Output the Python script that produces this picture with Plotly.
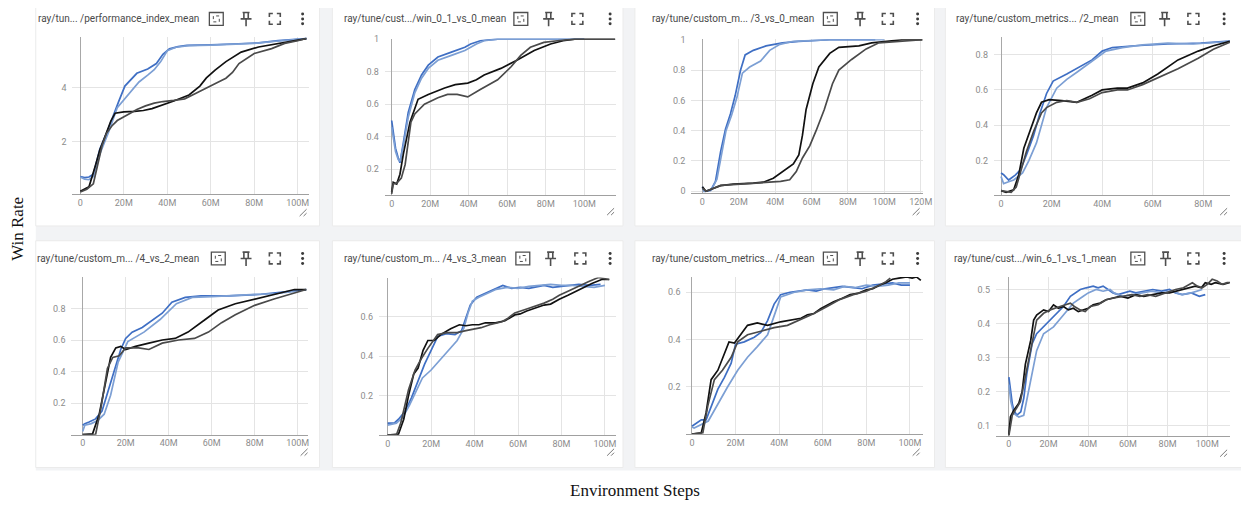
import plotly.graph_objects as go

W, H = 1249, 506
OFF = 8            # the page body margin shifts the figure by this many pixels
FW, FH = W - OFF, H - OFF

# ---------------- data (x in millions of environment steps) ----------------
TITLES = [
    "ray/tun... /performance_index_mean",
    "ray/tune/cust.../win_0_1_vs_0_mean",
    "ray/tune/custom_m... /3_vs_0_mean",
    "ray/tune/custom_metrics... /2_mean",
    "ray/tune/custom_m... /4_vs_2_mean",
    "ray/tune/custom_m... /4_vs_3_mean",
    "ray/tune/custom_metrics... /4_mean",
    "ray/tune/cust.../win_6_1_vs_1_mean",
]
X_TICKS = [0, 20, 40, 60, 80, 100, 120]
X_TICK_TEXT = ["0", "20M", "40M", "60M", "80M", "100M", "120M"]

# panel 1
P1_B1_X = [0, 2, 4, 6, 9, 13, 17.5, 20.5, 26, 31, 35, 38, 41, 45, 49, 55, 60, 70, 82, 91, 102, 104]
P1_B1_Y = [0.72, 0.68, 0.70, 0.80, 1.73, 2.5, 3.45, 4.05, 4.52, 4.68, 4.88, 5.22, 5.42, 5.50, 5.55, 5.55, 5.57, 5.60, 5.64, 5.72, 5.78, 5.80]
P1_B2_X = [0, 2, 4, 6, 9, 13, 17, 22, 27, 31, 34, 37, 40, 44, 50, 60, 70, 80, 90, 100, 104]
P1_B2_Y = [0.70, 0.62, 0.60, 0.72, 1.55, 2.35, 3.25, 3.73, 4.2, 4.45, 4.65, 4.95, 5.35, 5.48, 5.54, 5.56, 5.58, 5.62, 5.70, 5.76, 5.80]
P1_K1_X = [0, 4, 7, 9, 11.5, 14, 16, 20, 25, 29, 33, 37, 43, 50, 55, 58, 62, 67, 74, 82, 92, 100, 104]
P1_K1_Y = [0.18, 0.34, 1.13, 1.7, 2.22, 2.75, 3.05, 3.10, 3.12, 3.15, 3.22, 3.33, 3.50, 3.72, 4.05, 4.35, 4.64, 4.95, 5.30, 5.49, 5.64, 5.74, 5.80]
P1_K2_X = [0, 3, 6, 8, 10, 12, 14.5, 17, 20, 23, 26, 30, 34, 38, 43, 48, 53, 57, 60.5, 64, 67, 70, 73, 77, 80, 88, 94, 100, 104]
P1_K2_Y = [0.15, 0.25, 0.45, 1.1, 1.85, 2.3, 2.58, 2.78, 2.90, 3.05, 3.19, 3.32, 3.42, 3.48, 3.52, 3.58, 3.78, 3.95, 4.10, 4.22, 4.34, 4.55, 4.88, 5.08, 5.25, 5.43, 5.62, 5.72, 5.80]

# panel 2
P2_B1_X = [0, 1, 2, 3.4, 4.3, 6, 8.6, 12, 15.5, 19, 24, 31, 38, 41, 46, 55, 70, 85, 100]
P2_B1_Y = [0.50, 0.42, 0.33, 0.27, 0.24, 0.36, 0.55, 0.69, 0.78, 0.84, 0.89, 0.92, 0.95, 0.97, 0.99, 1.0, 1.0, 1.0, 1.0]
P2_B2_X = [0, 1, 2, 3.4, 4.3, 6, 8.6, 12, 15.5, 19, 24, 31, 38, 41, 44, 48, 55, 70, 85, 100]
P2_B2_Y = [0.46, 0.38, 0.31, 0.26, 0.25, 0.34, 0.52, 0.67, 0.76, 0.82, 0.87, 0.90, 0.93, 0.95, 0.97, 0.99, 1.0, 1.0, 1.0, 1.0]
P2_K1_X = [0, 0.8, 2.6, 4.3, 6, 9.5, 13.7, 19, 27.5, 33, 39.5, 44, 48, 56.7, 65, 74, 82.5, 89, 95, 105, 116]
P2_K1_Y = [0.06, 0.12, 0.11, 0.17, 0.29, 0.49, 0.63, 0.66, 0.70, 0.72, 0.73, 0.75, 0.78, 0.82, 0.87, 0.93, 0.97, 0.99, 1.0, 1.0, 1.0]
P2_K2_X = [0, 0.8, 2.6, 5, 7, 10, 12, 17, 24, 29, 34, 39.5, 46, 55, 62, 67, 72, 79, 86, 95, 105, 116]
P2_K2_Y = [0.05, 0.11, 0.115, 0.146, 0.23, 0.49, 0.54, 0.60, 0.64, 0.66, 0.66, 0.645, 0.69, 0.75, 0.83, 0.90, 0.95, 0.98, 0.99, 1.0, 1.0, 1.0]

# panel 3
P3_B1_X = [0, 1, 4.5, 7.2, 10, 12.7, 15.4, 18, 21, 23.5, 28, 35, 44, 53, 70, 95]
P3_B1_Y = [0.03, 0.0, 0.005, 0.065, 0.26, 0.41, 0.51, 0.63, 0.80, 0.90, 0.93, 0.96, 0.98, 0.99, 1.0, 1.0]
P3_B2_X = [0, 1, 5, 8, 10.5, 13, 16, 19, 22, 26, 32, 37, 42.6, 50, 70, 100]
P3_B2_Y = [0.02, 0.0, 0.01, 0.08, 0.24, 0.40, 0.50, 0.62, 0.78, 0.82, 0.86, 0.93, 0.97, 0.99, 1.0, 1.0]
P3_K1_X = [0, 2, 10, 17, 28, 33.5, 39, 44, 50, 53, 55, 57, 60.7, 64, 70, 75, 86, 93, 100, 110, 121]
P3_K1_Y = [0.03, 0.0, 0.037, 0.047, 0.054, 0.06, 0.086, 0.13, 0.18, 0.24, 0.37, 0.54, 0.71, 0.82, 0.91, 0.95, 0.96, 0.98, 0.99, 1.0, 1.0]
P3_K2_X = [0, 2, 10, 28, 43, 48, 51.6, 55, 59, 62.5, 67, 71.5, 75, 82, 90, 97, 108, 121]
P3_K2_Y = [0.02, 0.0, 0.039, 0.054, 0.065, 0.076, 0.13, 0.22, 0.30, 0.40, 0.54, 0.71, 0.80, 0.87, 0.94, 0.98, 0.99, 1.0]

# panel 4
P4_B1_X = [0, 1, 3, 5.6, 7.6, 10, 12.8, 15.4, 18, 20.6, 26, 31, 36, 40, 44, 53, 66, 79, 90.5]
P4_B1_Y = [0.13, 0.12, 0.09, 0.118, 0.146, 0.23, 0.34, 0.47, 0.58, 0.65, 0.69, 0.73, 0.77, 0.82, 0.84, 0.85, 0.86, 0.865, 0.876]
P4_B2_X = [0, 1, 3, 5, 8.5, 11, 14, 18, 22, 26, 30, 36, 41.5, 48, 56, 66, 76, 86, 90.5]
P4_B2_Y = [0.11, 0.07, 0.08, 0.09, 0.13, 0.2, 0.30, 0.50, 0.61, 0.66, 0.70, 0.76, 0.82, 0.84, 0.855, 0.865, 0.86, 0.87, 0.875]
P4_K1_X = [0, 2, 5, 7, 9, 11.5, 14, 16, 19, 24, 30, 36, 40, 46, 50, 56, 62, 70, 78, 84, 90.5]
P4_K1_Y = [0.03, 0.02, 0.035, 0.12, 0.27, 0.37, 0.47, 0.53, 0.545, 0.54, 0.53, 0.57, 0.60, 0.61, 0.61, 0.64, 0.69, 0.77, 0.82, 0.85, 0.875]
P4_K2_X = [0, 4, 6, 8, 10, 13, 16, 18, 22, 26, 30, 35, 40, 46, 50, 56, 62, 70, 78, 84, 90.5]
P4_K2_Y = [0.03, 0.02, 0.05, 0.15, 0.25, 0.37, 0.47, 0.50, 0.53, 0.54, 0.53, 0.55, 0.585, 0.60, 0.60, 0.63, 0.67, 0.72, 0.78, 0.83, 0.87]

# panel 5
P5_B1_X = [0, 1, 3, 6, 9, 12.3, 15.4, 17.7, 20, 23, 27.7, 32, 37, 41.5, 47.7, 55, 68, 83, 98, 104]
P5_B1_Y = [0.06, 0.07, 0.08, 0.10, 0.15, 0.30, 0.44, 0.54, 0.61, 0.65, 0.68, 0.72, 0.77, 0.84, 0.87, 0.88, 0.88, 0.89, 0.91, 0.92]
P5_B2_X = [0, 1, 4, 7, 10, 13, 16.5, 21, 28.5, 36, 43.6, 51, 60, 75, 90, 100]
P5_B2_Y = [0.02, 0.06, 0.07, 0.09, 0.13, 0.25, 0.46, 0.59, 0.65, 0.73, 0.83, 0.87, 0.875, 0.885, 0.895, 0.91]
P5_K1_X = [0, 4.6, 7.7, 10.8, 13, 15.4, 17.7, 20, 24.6, 30.8, 37, 43, 49, 57, 63, 71, 80, 89, 98.5, 104]
P5_K1_Y = [0.0, 0.005, 0.13, 0.34, 0.49, 0.55, 0.56, 0.54, 0.56, 0.58, 0.60, 0.61, 0.65, 0.73, 0.79, 0.83, 0.86, 0.89, 0.92, 0.92]
P5_K2_X = [0, 6, 8.5, 11.5, 14, 17, 20, 26, 30.8, 37, 44.6, 52, 58.5, 64.6, 71, 80, 89, 98.5, 104]
P5_K2_Y = [0.0, 0.0, 0.17, 0.42, 0.49, 0.50, 0.55, 0.55, 0.54, 0.58, 0.60, 0.61, 0.65, 0.71, 0.76, 0.82, 0.86, 0.90, 0.92]

# panel 6
P6_B1_X = [0, 3, 5, 8, 11, 14, 17, 20, 23, 27, 31, 34, 36, 38, 41, 45, 50, 53, 57, 61, 65, 69, 72, 76, 80, 84, 88, 93, 98]
P6_B1_Y = [0.06, 0.06, 0.08, 0.12, 0.19, 0.28, 0.36, 0.43, 0.50, 0.515, 0.51, 0.53, 0.60, 0.66, 0.70, 0.72, 0.745, 0.76, 0.745, 0.75, 0.745, 0.755, 0.76, 0.75, 0.755, 0.76, 0.765, 0.76, 0.765]
P6_B2_X = [0, 4, 7, 10, 13, 16, 20, 24, 28, 32, 35, 37, 39, 42, 46, 50, 55, 60, 65, 70, 75, 80, 85, 90, 95, 100]
P6_B2_Y = [0.05, 0.06, 0.09, 0.15, 0.22, 0.29, 0.33, 0.38, 0.43, 0.48, 0.54, 0.62, 0.68, 0.70, 0.72, 0.74, 0.75, 0.745, 0.755, 0.76, 0.765, 0.76, 0.76, 0.755, 0.75, 0.76]
P6_K1_X = [0, 5, 7.4, 9.6, 12, 14, 16.3, 18.5, 21.5, 24.4, 29, 33, 36, 39, 42, 45, 49.6, 54, 58.5, 61, 64, 68, 72, 75, 79, 83, 86.7, 90, 94, 98.5, 102]
P6_K1_Y = [0.0, 0.005, 0.08, 0.20, 0.31, 0.34, 0.43, 0.48, 0.48, 0.51, 0.54, 0.56, 0.555, 0.56, 0.56, 0.57, 0.57, 0.58, 0.61, 0.615, 0.63, 0.645, 0.66, 0.665, 0.69, 0.71, 0.73, 0.75, 0.77, 0.79, 0.79]
P6_K2_X = [0, 4, 6, 9.6, 12.6, 15.6, 18.5, 23, 27.4, 32, 36, 40, 43, 47, 52.6, 55, 58.5, 64, 68, 72, 76, 79, 83, 86.7, 92.6, 97, 102]
P6_K2_Y = [0.0, 0.0, 0.06, 0.23, 0.33, 0.39, 0.44, 0.51, 0.52, 0.52, 0.53, 0.54, 0.545, 0.56, 0.575, 0.59, 0.62, 0.64, 0.655, 0.67, 0.69, 0.71, 0.73, 0.75, 0.78, 0.80, 0.79]

# panel 7
P7_B1_X = [0, 2, 4.3, 6.5, 8.8, 11.9, 14.9, 18, 20, 24, 28.6, 31.6, 34.7, 37.7, 40.7, 45, 49, 53, 57, 61, 65, 69, 74, 78, 83, 87, 92, 96, 100]
P7_B1_Y = [0.033, 0.047, 0.06, 0.06, 0.117, 0.19, 0.24, 0.30, 0.38, 0.39, 0.41, 0.43, 0.48, 0.55, 0.59, 0.60, 0.605, 0.61, 0.605, 0.615, 0.62, 0.625, 0.62, 0.615, 0.63, 0.635, 0.64, 0.63, 0.63]
P7_B2_X = [0, 1, 7.5, 12, 16.4, 21, 25.5, 30, 34.7, 37.7, 40.7, 47, 53, 59, 65, 70, 75, 80, 85, 90, 95, 100]
P7_B2_Y = [0.03, 0.025, 0.055, 0.13, 0.20, 0.27, 0.325, 0.37, 0.42, 0.50, 0.58, 0.60, 0.61, 0.615, 0.61, 0.625, 0.62, 0.63, 0.625, 0.63, 0.64, 0.64]
P7_K1_X = [0, 4.3, 6.5, 8.8, 11.9, 14.9, 17, 19.5, 22.5, 25.5, 30, 34.7, 40.7, 46.8, 50, 53, 56, 59, 62, 65, 69, 72.6, 76, 80, 83, 86, 89, 92, 95, 98.5, 101, 103, 105]
P7_K1_Y = [0.0, 0.005, 0.09, 0.23, 0.27, 0.34, 0.39, 0.385, 0.42, 0.46, 0.47, 0.46, 0.475, 0.485, 0.49, 0.505, 0.51, 0.53, 0.545, 0.56, 0.575, 0.59, 0.595, 0.61, 0.615, 0.63, 0.64, 0.655, 0.66, 0.665, 0.66, 0.665, 0.65]
P7_K2_X = [0, 5, 7.3, 10.3, 14, 18, 21, 25.5, 31.6, 37.7, 43.8, 50, 56, 62, 68, 74, 80, 86, 89, 91]
P7_K2_Y = [0.0, 0.005, 0.12, 0.23, 0.27, 0.325, 0.39, 0.42, 0.435, 0.45, 0.46, 0.485, 0.51, 0.54, 0.57, 0.59, 0.605, 0.63, 0.645, 0.66]

# panel 8
P8_B1_X = [0, 0.8, 1.7, 2.5, 4, 6, 7.5, 9, 11.7, 14, 17.5, 21, 24, 27.5, 31, 33.5, 36, 39, 42.5, 45, 47.5, 50, 52.5, 55, 57.5, 61, 64, 68, 72.5, 77, 81, 84, 87.5, 92, 96, 99]
P8_B1_Y = [0.242, 0.20, 0.165, 0.145, 0.13, 0.14, 0.18, 0.25, 0.34, 0.37, 0.39, 0.41, 0.43, 0.45, 0.48, 0.49, 0.50, 0.505, 0.51, 0.505, 0.51, 0.50, 0.49, 0.485, 0.49, 0.495, 0.49, 0.495, 0.50, 0.495, 0.50, 0.49, 0.485, 0.49, 0.48, 0.485]
P8_B2_X = [0, 1, 2.5, 5, 7.5, 11, 14, 17.5, 22.5, 27.5, 32.5, 37.5, 40, 44, 47.5, 51, 53, 57.5, 62, 67, 72, 77, 82, 87, 92, 97.5]
P8_B2_Y = [0.22, 0.17, 0.135, 0.125, 0.13, 0.23, 0.32, 0.37, 0.39, 0.425, 0.46, 0.48, 0.49, 0.50, 0.495, 0.50, 0.49, 0.48, 0.485, 0.49, 0.495, 0.49, 0.495, 0.485, 0.49, 0.50]
P8_K1_X = [0, 0.8, 2.5, 5, 6.7, 8.3, 11, 12.5, 14, 17.5, 20, 22.5, 25, 27.5, 30, 32.5, 35, 37.5, 40, 42.5, 46, 49, 52, 56, 60, 64, 68, 72.5, 77, 81, 84, 87.5, 91, 94, 97, 99, 102, 104, 108, 111]
P8_K1_Y = [0.073, 0.126, 0.145, 0.165, 0.20, 0.28, 0.35, 0.41, 0.425, 0.44, 0.435, 0.455, 0.445, 0.45, 0.44, 0.445, 0.435, 0.44, 0.445, 0.455, 0.46, 0.47, 0.475, 0.48, 0.475, 0.485, 0.48, 0.485, 0.49, 0.49, 0.495, 0.50, 0.505, 0.51, 0.505, 0.52, 0.515, 0.52, 0.515, 0.52]
P8_K2_X = [0, 1.7, 5.8, 8.3, 10.8, 14, 17.5, 20.8, 25.8, 31, 33, 36, 38.5, 41, 45, 49, 53, 57, 62, 66, 70, 74, 79, 84, 88, 92.5, 95, 97.5, 100, 102.5, 105, 107.5, 110, 111.5]
P8_K2_Y = [0.07, 0.13, 0.17, 0.24, 0.31, 0.41, 0.43, 0.44, 0.45, 0.46, 0.45, 0.44, 0.435, 0.45, 0.455, 0.47, 0.475, 0.48, 0.485, 0.48, 0.485, 0.48, 0.49, 0.50, 0.505, 0.52, 0.51, 0.505, 0.515, 0.53, 0.525, 0.515, 0.52, 0.52]

# ---------------- layout geometry (page pixels) ----------------
def PX(x):
    return (x - OFF) / FW

def PY(y):
    return 1 - (y - OFF) / FH

# plot area: left, right, top, bottom (px) ; x range ; y range ; y ticks
PANELS = [
    dict(box=(73, 311, 33, 193), xr=(-3.6, 105), yr=(0.06, 5.87), yt=[2, 4], ytt=["2", "4"]),
    dict(box=(388, 621, 35, 194), xr=(-3.5, 116.5), yr=(0.04, 1.003), yt=[0.2, 0.4, 0.6, 0.8, 1.0], ytt=["0.2", "0.4", "0.6", "0.8", "1"]),
    dict(box=(697, 930, 35.7, 191.7), xr=(-6, 121), yr=(-0.012, 1.003), yt=[0, 0.2, 0.4, 0.6, 0.8, 1.0], ytt=["0", "0.2", "0.4", "0.6", "0.8", "1"]),
    dict(box=(1002, 1240, 33.3, 194), xr=(-2.8, 90.6), yr=(0.003, 0.9), yt=[0.2, 0.4, 0.6, 0.8], ytt=["0.2", "0.4", "0.6", "0.8"]),
    dict(box=(72, 310, 276.7, 436.7), xr=(-5.2, 104.6), yr=(0.0, 1.0), yt=[0.2, 0.4, 0.6, 0.8, 1.0], ytt=["0.2", "0.4", "0.6", "0.8", ""]),
    dict(box=(382, 620.7, 277.3, 437), xr=(-4, 105), yr=(0.0, 0.8), yt=[0.2, 0.4, 0.6, 0.8], ytt=["0.2", "0.4", "0.6", ""]),
    dict(box=(692, 930, 276.7, 436), xr=(-2.5, 105.8), yr=(0.0, 0.665), yt=[0.2, 0.4, 0.6], ytt=["0.2", "0.4", "0.6"]),
    dict(box=(1004, 1240, 276.7, 437.7), xr=(-6.5, 111.5), yr=(0.07, 0.537), yt=[0.1, 0.2, 0.3, 0.4, 0.5], ytt=["0.1", "0.2", "0.3", "0.4", "0.5"]),
]

SERIES = [
    [(P1_B1_X, P1_B1_Y), (P1_B2_X, P1_B2_Y), (P1_K1_X, P1_K1_Y), (P1_K2_X, P1_K2_Y)],
    [(P2_B1_X, P2_B1_Y), (P2_B2_X, P2_B2_Y), (P2_K1_X, P2_K1_Y), (P2_K2_X, P2_K2_Y)],
    [(P3_B1_X, P3_B1_Y), (P3_B2_X, P3_B2_Y), (P3_K1_X, P3_K1_Y), (P3_K2_X, P3_K2_Y)],
    [(P4_B1_X, P4_B1_Y), (P4_B2_X, P4_B2_Y), (P4_K1_X, P4_K1_Y), (P4_K2_X, P4_K2_Y)],
    [(P5_B1_X, P5_B1_Y), (P5_B2_X, P5_B2_Y), (P5_K1_X, P5_K1_Y), (P5_K2_X, P5_K2_Y)],
    [(P6_B1_X, P6_B1_Y), (P6_B2_X, P6_B2_Y), (P6_K1_X, P6_K1_Y), (P6_K2_X, P6_K2_Y)],
    [(P7_B1_X, P7_B1_Y), (P7_B2_X, P7_B2_Y), (P7_K1_X, P7_K1_Y), (P7_K2_X, P7_K2_Y)],
    [(P8_B1_X, P8_B1_Y), (P8_B2_X, P8_B2_Y), (P8_K1_X, P8_K1_Y), (P8_K2_X, P8_K2_Y)],
]
COLORS = ["#3f6fc4", "#7c9fd4", "#111111", "#4a4a4a"]

CARDS = [(36, 322, -6, 225), (335, 628, -6, 225), (640, 942, -6, 225), (953, 1260, -6, 225),
         (36, 322, 240, 470), (335, 628, 240, 470), (640, 942, 240, 470), (953, 1260, 240, 470)]
TITLE_POS = [(36, 15), (345, 15), (655, 15), (962, 15), (35, 258), (345, 258), (655, 258), (960, 258)]
ICON_X = [(218, 248, 277, 305), (525, 553, 582, 615), (837, 867, 895, 925), (1147, 1174, 1203, 1234),
          (220, 248, 277, 305), (527, 555, 585, 615), (837, 867, 895, 925), (1147, 1175, 1203, 1234)]
RESIZE_POS = [(307, 212), (617, 211), (925, 211), (1235, 211), (308, 455), (617, 455), (925, 455), (1235, 456)]

fig = go.Figure()

# background and cards
fig.add_shape(type="rect", xref="paper", yref="paper", x0=PX(36), x1=PX(1262), y0=PY(473), y1=PY(-5),
              fillcolor="#f2f3f5", line=dict(width=0), layer="below")
for (l, r, t, b) in CARDS:
    fig.add_shape(type="rect", xref="paper", yref="paper", x0=PX(l), x1=PX(r), y0=PY(b), y1=PY(t),
                  fillcolor="white", line=dict(color="#ebebeb", width=1), layer="below")

for i, p in enumerate(PANELS):
    n = i + 1
    l, r, t, b = p["box"]
    xa = "x" if n == 1 else f"x{n}"
    ya = "y" if n == 1 else f"y{n}"
    for k, (xs, ys) in enumerate(SERIES[i]):
        fig.add_trace(go.Scatter(x=xs, y=ys, mode="lines", xaxis=xa, yaxis=ya,
                                 line=dict(color=COLORS[k], width=1.7, shape="linear"),
                                 showlegend=False, hoverinfo="skip"))
    nticks = [v for v in X_TICKS if v <= p["xr"][1] + 3]
    fig.layout[f"xaxis{'' if n == 1 else n}"] = dict(
        domain=[PX(l), PX(r)], range=list(p["xr"]), anchor=ya,
        tickvals=nticks, ticktext=X_TICK_TEXT[:len(nticks)],
        showgrid=True, gridcolor="#e4e4e4", gridwidth=1,
        zeroline=True, zerolinecolor="#a8a8a8", zerolinewidth=1,
        showline=True, linecolor="#a0a0a0", linewidth=1,
        ticks="", tickfont=dict(family="Roboto", size=9, color="#8c8c8c"),
        fixedrange=True)
    fig.layout[f"yaxis{'' if n == 1 else n}"] = dict(
        domain=[PY(b), PY(t)], range=list(p["yr"]), anchor=xa,
        tickvals=p["yt"], ticktext=p["ytt"],
        showgrid=True, gridcolor="#e4e4e4", gridwidth=1,
        zeroline=False, showline=False,
        ticks="", ticklabelstandoff=5, tickfont=dict(family="Roboto", size=9, color="#8c8c8c"),
        fixedrange=True)

annotations = []
shapes = []

def path(points_list):
    s = ""
    for pts in points_list:
        for j, (x, y) in enumerate(pts):
            s += ("M" if j == 0 else "L") + f"{PX(x):.5f},{PY(y):.5f} "
    return s.strip()

for i in range(8):
    tx, ty = TITLE_POS[i]
    annotations.append(dict(text=TITLES[i], x=PX(tx), y=PY(ty), xref="paper", yref="paper",
                            xanchor="left", yanchor="middle", showarrow=False,
                            font=dict(family="Roboto", size=10, color="#4a4a4a")))
    x1, x2, x3, x4 = ICON_X[i]
    cy = ty
    col = "#4f4f4f"
    # fit-to-domain icon
    shapes.append(dict(type="rect", xref="paper", yref="paper", x0=PX(x1 - 7), x1=PX(x1 + 7),
                       y0=PY(cy + 6.5), y1=PY(cy - 6.5), line=dict(color=col, width=1.3)))
    shapes.append(dict(type="rect", xref="paper", yref="paper", x0=PX(x1 - 3), x1=PX(x1 + 3),
                       y0=PY(cy + 3), y1=PY(cy - 3), line=dict(color=col, width=1, dash="dot")))
    # pin icon
    shapes.append(dict(type="path", xref="paper", yref="paper", line=dict(color=col, width=1.6),
                       path=path([[(x2 - 3.5, cy - 6.5), (x2 + 3.5, cy - 6.5)],
                                  [(x2 - 2.2, cy - 6.5), (x2 - 2.2, cy)],
                                  [(x2 + 2.2, cy - 6.5), (x2 + 2.2, cy)],
                                  [(x2 - 5.5, cy), (x2 + 5.5, cy)],
                                  [(x2, cy), (x2, cy + 7.5)]])))
    # expand icon
    shapes.append(dict(type="path", xref="paper", yref="paper", line=dict(color=col, width=1.6),
                       path=path([[(x3 - 5.5, cy - 2), (x3 - 5.5, cy - 5.5), (x3 - 2, cy - 5.5)],
                                  [(x3 + 2, cy - 5.5), (x3 + 5.5, cy - 5.5), (x3 + 5.5, cy - 2)],
                                  [(x3 + 5.5, cy + 2), (x3 + 5.5, cy + 5.5), (x3 + 2, cy + 5.5)],
                                  [(x3 - 2, cy + 5.5), (x3 - 5.5, cy + 5.5), (x3 - 5.5, cy + 2)]])))
    # vertical dots
    for dy in (-5, 0, 5):
        shapes.append(dict(type="circle", xref="paper", yref="paper",
                           x0=PX(x4 - 1.5), x1=PX(x4 + 1.5), y0=PY(cy + dy + 1.5), y1=PY(cy + dy - 1.5),
                           fillcolor="#3c3c3c", line=dict(width=0)))
    # resize icon
    rx, ry = RESIZE_POS[i]
    shapes.append(dict(type="path", xref="paper", yref="paper", line=dict(color="#777777", width=1),
                       path=path([[(rx - 5, ry + 3), (rx + 2, ry - 4)], [(rx - 1, ry + 3), (rx + 2, ry)]])))

annotations.append(dict(text="Win Rate", x=PX(18), y=PY(228), xref="paper", yref="paper",
                        textangle=-90, showarrow=False, xanchor="center", yanchor="middle",
                        font=dict(family="Liberation Serif", size=17, color="#111111")))
annotations.append(dict(text="Environment Steps", x=PX(640), y=PY(493), xref="paper", yref="paper",
                        showarrow=False, xanchor="center", yanchor="middle",
                        font=dict(family="Liberation Serif", size=17, color="#111111")))

for s in shapes:
    fig.add_shape(**s)

fig.update_layout(width=FW, height=FH, margin=dict(l=0, r=0, t=0, b=0),
                  paper_bgcolor="white", plot_bgcolor="white",
                  annotations=annotations, showlegend=False)

fig.write_html("out.html")
